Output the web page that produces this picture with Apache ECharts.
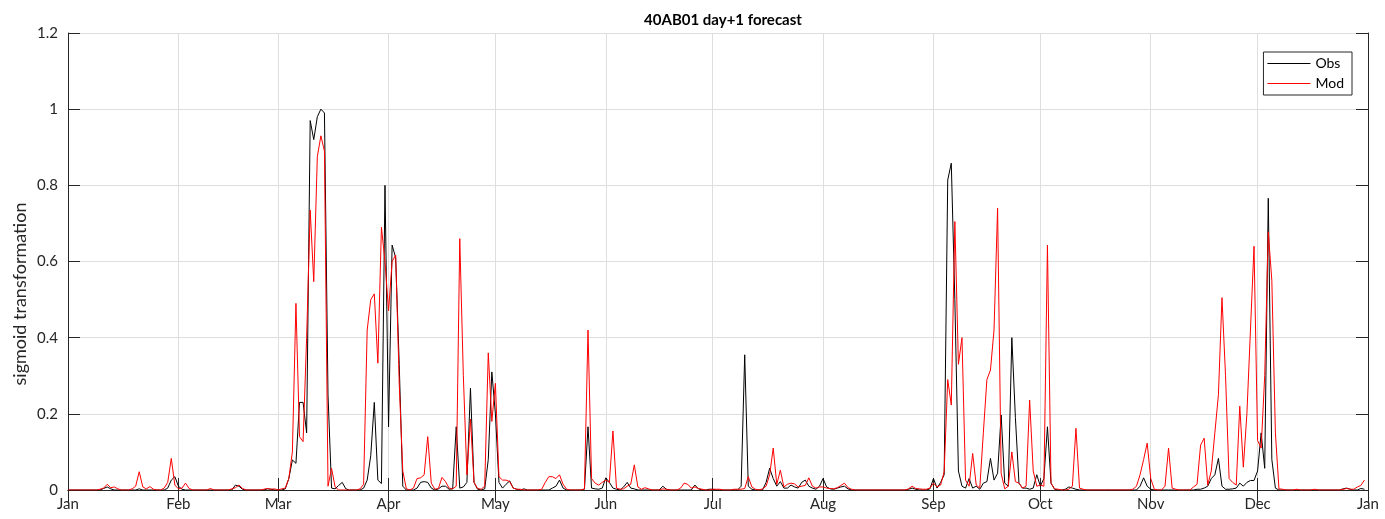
<!DOCTYPE html>
<html>
<head>
<meta charset="utf-8">
<script src="https://cdn.jsdelivr.net/npm/echarts@6/dist/echarts.min.js"></script>
<style>
  html, body { margin: 0; padding: 0; background: #ffffff; }
  #chart { width: 1385px; height: 519px; }
</style>
</head>
<body>
<div id="chart"></div>
<script>
// Month tick labels and the day-of-year on which each month starts
const monthLabels = ['Jan', 'Feb', 'Mar', 'Apr', 'May', 'Jun', 'Jul', 'Aug', 'Sep', 'Oct', 'Nov', 'Dec', 'Jan'];
const monthStarts = [0, 31, 59, 90, 120, 151, 181, 212, 243, 273, 304, 334, 365];

// Daily observed values (sigmoid transformed), one row per month
const obs = [
  0,0,0,0,0,0,0,0,0,0, 0.004,0.008,0.003,0,0,0,0,0,0,0, 0.003,0,0,0,0,0,0,0,0.005,0.026,0.035,
  0.01,0.002,0,0,0,0,0,0,0,0, 0,0,0,0,0,0,0.013,0.01,0.002,0, 0,0,0,0,0,0.003,0.002,0,
  0,0,0.003,0.03,0.079,0.07,0.23,0.23,0.15,0.97, 0.92,0.98,1.0,0.99,0.25,0.005,0.003,0.012,0.02,0.003, 0,0,0,0,0.005,0.026,0.09,0.23,0.026,0.017,0.80,
  0.166,0.643,0.61,0.33,0.01,0,0,0,0.005,0.02, 0.022,0.02,0.005,0,0.003,0.01,0.01,0.002,0.003,0.166, 0.005,0.008,0.02,0.267,0.02,0.002,0,0.003,0.08,0.31,
  0.2,0.02,0.005,0.015,0.024,0.005,0.002,0,0.003,0, 0,0,0,0,0,0,0.005,0.01,0.026,0.005, 0,0,0,0,0,0.002,0.166,0.005,0.003,0.002, 0.005,
  0.032,0.02,0.005,0.002,0,0.008,0.02,0.005,0.003,0, 0,0,0,0,0,0,0.01,0.002,0,0, 0,0,0,0,0,0.013,0.003,0,0,0.002,
  0.002,0,0,0,0,0,0,0,0.01,0.355, 0.01,0.002,0,0,0,0.02,0.057,0.03,0.01,0.022, 0.005,0.005,0.013,0.008,0.005,0.02,0.026,0.01,0.005,0.002, 0.01,
  0.03,0.008,0.003,0.002,0.005,0.008,0.01,0.003,0,0, 0,0,0,0,0,0,0,0,0,0, 0,0,0,0,0.002,0.005,0.002,0,0,0, 0.003,
  0.03,0.005,0.02,0.04,0.814,0.858,0.5,0.05,0.01,0.005, 0.03,0.005,0.01,0.002,0.018,0.022,0.083,0.026,0.044,0.197, 0.018,0.01,0.40,0.19,0.018,0.005,0.005,0.002,0.005,0.04,
  0.01,0.03,0.166,0.018,0.002,0,0,0.002,0.008,0.005, 0.002,0,0,0,0,0,0,0,0,0, 0,0,0,0,0,0,0,0,0.01,0.032, 0.01,
  0.002,0,0,0,0,0,0,0,0,0, 0,0,0,0.002,0.002,0.005,0.01,0.03,0.04,0.083, 0.01,0.002,0.002,0.003,0.005,0.018,0.01,0.02,0.025,0.025,
  0.05,0.15,0.057,0.766,0.08,0.005,0,0,0,0, 0,0,0,0,0,0,0,0,0,0, 0,0,0,0,0.003,0.005,0.002,0,0,0.004, 0.002
];

// Daily day+1 model forecast, one row per month
const mod = [
  0,0,0,0,0,0,0,0,0,0.002, 0.005,0.015,0.006,0.008,0.003,0,0,0,0.003,0.01, 0.048,0.008,0.003,0.009,0.002,0,0,0.005,0.02,0.083,0.013,
  0.003,0.005,0.018,0.004,0,0,0,0,0,0.004, 0,0,0,0,0,0.003,0.006,0.013,0.004,0, 0,0,0,0,0.002,0.004,0.002,0.003,
  0,0.003,0.005,0.03,0.1,0.49,0.14,0.127,0.4,0.735, 0.547,0.875,0.93,0.89,0.01,0.057,0.008,0,0,0, 0,0,0,0.003,0.015,0.42,0.5,0.515,0.333,0.69,0.6,
  0.47,0.6,0.617,0.28,0.05,0.003,0,0.005,0.03,0.032, 0.04,0.14,0.018,0.002,0.004,0.033,0.022,0.005,0.003,0.01, 0.66,0.3,0.04,0.186,0.02,0.004,0.002,0.01,0.36,0.18,
  0.28,0.035,0.026,0.026,0.022,0.005,0.002,0.002,0,0, 0,0,0,0.002,0.02,0.035,0.035,0.03,0.04,0.015, 0.002,0,0,0,0,0.003,0.42,0.03,0.018,0.013, 0.02,
  0.026,0.02,0.155,0.005,0.002,0.003,0.01,0.015,0.066,0.008, 0.002,0.006,0.003,0,0,0,0.003,0.002,0,0, 0,0.005,0.018,0.015,0.005,0.008,0.004,0.002,0,0,
  0.002,0.002,0.002,0,0,0,0.002,0.002,0.002,0.004, 0.035,0.008,0.002,0,0.003,0.01,0.04,0.11,0.015,0.052, 0.008,0.015,0.018,0.016,0.008,0.01,0.012,0.032,0.01,0.005, 0.008,
  0.008,0.005,0.004,0.003,0.006,0.012,0.018,0.006,0.002,0, 0,0,0,0,0,0,0,0,0,0, 0,0,0,0,0.003,0.01,0.004,0.003,0.002,0.002, 0.005,
  0.018,0.008,0.013,0.048,0.29,0.223,0.705,0.33,0.40,0.026, 0.01,0.096,0.013,0.005,0.15,0.29,0.315,0.42,0.74,0.044, 0.003,0.01,0.10,0.022,0.018,0.005,0.01,0.236,0.05,0.01,
  0.013,0.01,0.643,0.018,0.003,0.002,0,0,0.002,0.01, 0.162,0.005,0.002,0,0,0,0,0,0,0, 0,0,0,0,0,0,0.002,0.01,0.04,0.08, 0.123,
  0.03,0.002,0,0,0.01,0.11,0.005,0.002,0,0, 0,0,0.008,0.015,0.118,0.136,0.013,0.05,0.15,0.25, 0.505,0.3,0.03,0.02,0.013,0.22,0.06,0.2,0.42,0.64,
  0.13,0.11,0.3,0.678,0.55,0.15,0.003,0.002,0,0, 0,0.002,0,0,0,0,0.002,0,0,0, 0,0,0,0,0.002,0.004,0.002,0.002,0.008,0.012, 0.026
];

// Day-of-year categories (one extra for 1 January of the following year)
const days = [];
for (let d = 0; d <= 365; d++) days.push(String(d));
const isMonthStart = (idx) => monthStarts.indexOf(idx) !== -1;
const labelFor = (idx) => monthLabels[monthStarts.indexOf(idx)];

const FONT = 'Lato, "Open Sans", sans-serif';
const AXIS_COLOR = '#262626';
const GRID_COLOR = '#dedede';

const chart = echarts.init(document.getElementById('chart'), null, { renderer: 'canvas' });

chart.setOption({
  animation: false,
  backgroundColor: '#ffffff',
  title: {
    text: '40AB01 day+1 forecast',
    left: 718,
    top: 8,
    textAlign: 'center',
    textStyle: { fontFamily: FONT, fontSize: 15, fontWeight: 'bold', color: '#000000' }
  },
  legend: {
    orient: 'vertical',
    right: 33,
    top: 52,
    data: ['Obs', 'Mod'],
    icon: 'rect',
    itemWidth: 43,
    itemHeight: 1,
    itemGap: 5,
    padding: [4, 8, 4, 4],
    borderColor: AXIS_COLOR,
    borderWidth: 1,
    borderRadius: 0,
    backgroundColor: '#ffffff',
    textStyle: { fontFamily: FONT, fontSize: 14, lineHeight: 15, color: '#000000' }
  },
  graphic: [
    {
      type: 'text',
      x: 20,
      y: 294,
      rotation: Math.PI / 2,
      style: {
        text: 'sigmoid transformation',
        fontFamily: FONT,
        fontSize: 18,
        fill: '#262626',
        align: 'center',
        verticalAlign: 'middle'
      }
    }
  ],
  grid: { left: 68, right: 17, top: 33, bottom: 29, containLabel: false },
  xAxis: [
    {
      type: 'category',
      data: days,
      boundaryGap: false,
      position: 'bottom',
      axisLine: { show: true, lineStyle: { color: AXIS_COLOR, width: 1 } },
      axisTick: { show: true, inside: true, length: 12, interval: isMonthStart, lineStyle: { color: AXIS_COLOR } },
      axisLabel: {
        show: true, interval: isMonthStart, margin: 7,
        formatter: (v, idx) => labelFor(idx),
        fontFamily: FONT, fontSize: 15, color: '#262626'
      },
      splitLine: { show: true, interval: isMonthStart, lineStyle: { color: GRID_COLOR, width: 1 } }
    },
    {
      type: 'category',
      data: days,
      boundaryGap: false,
      position: 'top',
      axisLine: { show: true, lineStyle: { color: AXIS_COLOR, width: 1 } },
      axisTick: { show: true, inside: true, length: 12, interval: isMonthStart, lineStyle: { color: AXIS_COLOR } },
      axisLabel: { show: false },
      splitLine: { show: false }
    }
  ],
  yAxis: [
    {
      type: 'value',
      min: 0,
      max: 1.2,
      interval: 0.2,
      position: 'left',
      axisLine: { show: true, lineStyle: { color: AXIS_COLOR, width: 1 } },
      axisTick: { show: true, inside: true, length: 12, lineStyle: { color: AXIS_COLOR } },
      axisLabel: { fontFamily: FONT, fontSize: 15, color: '#262626', margin: 10 },
      splitLine: { show: true, lineStyle: { color: GRID_COLOR, width: 1 } }
    },
    {
      type: 'value',
      min: 0,
      max: 1.2,
      interval: 0.2,
      position: 'right',
      axisLine: { show: true, lineStyle: { color: AXIS_COLOR, width: 1 } },
      axisTick: { show: true, inside: true, length: 12, lineStyle: { color: AXIS_COLOR } },
      axisLabel: { show: false },
      splitLine: { show: false }
    }
  ],
  series: [
    {
      name: 'Obs',
      type: 'line',
      data: obs,
      xAxisIndex: 0,
      yAxisIndex: 0,
      symbol: 'none',
      lineStyle: { color: '#000000', width: 1 },
      itemStyle: { color: '#000000' }
    },
    {
      name: 'Mod',
      type: 'line',
      data: mod,
      xAxisIndex: 0,
      yAxisIndex: 0,
      symbol: 'none',
      lineStyle: { color: '#ff0000', width: 1 },
      itemStyle: { color: '#ff0000' }
    }
  ]
});
</script>
</body>
</html>
